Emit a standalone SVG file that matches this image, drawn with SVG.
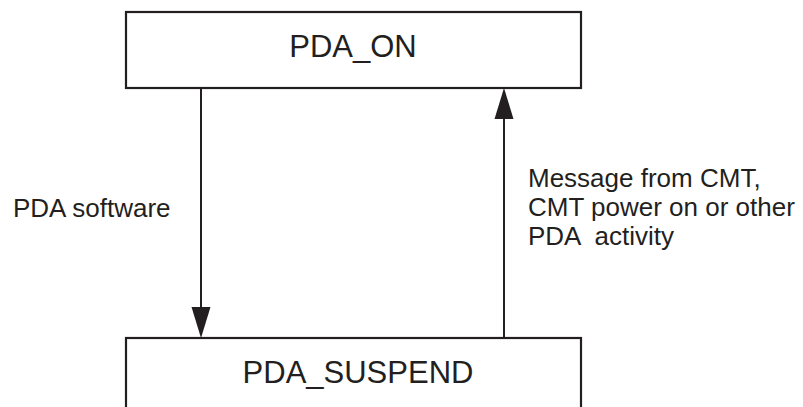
<svg xmlns="http://www.w3.org/2000/svg" width="803" height="407" viewBox="0 0 803 407">
  <style>
    .box { fill: #ffffff; stroke: #231f20; stroke-width: 2.2; }
    .title { font-family: "Liberation Sans", Arial, sans-serif; font-size: 31px; fill: #231f20; text-anchor: middle; }
    .label { font-family: "Liberation Sans", Arial, sans-serif; font-size: 26px; fill: #231f20; white-space: pre; }
    .edge { stroke: #231f20; stroke-width: 2; fill: none; }
    .head { fill: #231f20; }
  </style>
  <rect width="803" height="407" fill="#ffffff"/>

  <g id="pda_on">
    <rect class="box" x="126" y="12" width="455" height="76"/>
    <text class="title" x="353" y="57">PDA_ON</text>
  </g>

  <g id="pda_suspend">
    <rect class="box" x="126" y="338" width="455" height="90"/>
    <text class="title" x="358" y="383">PDA_SUSPEND</text>
  </g>

  <g id="connectors">
    <!-- PDA_ON to PDA_SUSPEND -->
    <line class="edge" x1="201" y1="88" x2="201" y2="310"/>
    <polygon class="head" points="191.5,307 210.5,307 201,338"/>
    <text class="label" x="13" y="217">PDA software</text>

    <!-- PDA_SUSPEND to PDA_ON -->
    <line class="edge" x1="504" y1="338" x2="504" y2="115"/>
    <polygon class="head" points="494.5,119 513.5,119 504,88"/>
    <text class="label" x="528" y="187">Message from CMT,</text>
    <text class="label" x="528" y="216">CMT power on or other</text>
    <text class="label" x="528" y="245" xml:space="preserve">PDA  activity</text>
  </g>
</svg>
